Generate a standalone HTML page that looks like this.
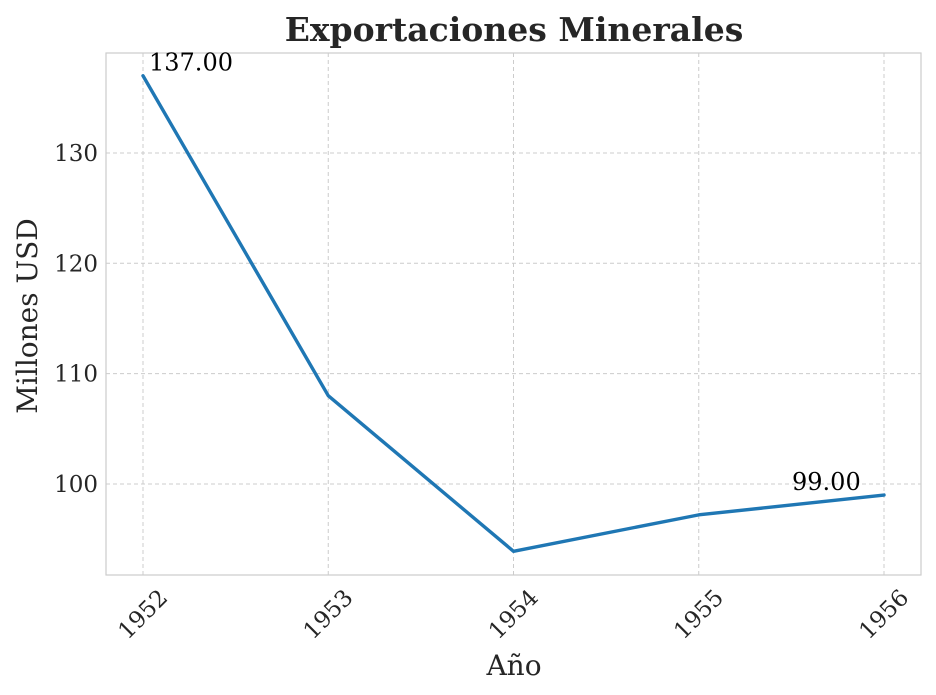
<!DOCTYPE html>
<html><head><meta charset="utf-8">
<style>
html,body{margin:0;padding:0;background:#fff;}
svg{display:block;font-family:"DejaVu Serif","Liberation Serif",serif;}
</style></head>
<body>
<svg id="chart" width="936" height="695" viewBox="0 0 936 695">
<text x="514" y="41" text-anchor="middle" font-size="33" font-weight="bold" fill="#262626">Exportaciones Minerales</text>
<g id="grid"></g>
<rect x="106" y="53" width="815" height="522" fill="none" stroke="#cccccc" stroke-width="1.2"/>
<g id="axes"></g>
<g id="series"></g>
<text x="514" y="675" text-anchor="middle" font-size="28" fill="#262626">Año</text>
<text transform="translate(37,316) rotate(-90)" text-anchor="middle" font-size="28" fill="#262626">Millones USD</text>
</svg>
<script>
const years = ["1952","1953","1954","1955","1956"];
const values = [137, 108, 93.9, 97.2, 99];
const yTicks = [100, 110, 120, 130];
const annotations = ["137.00", "99.00"];

const L=106,R=921,T=53,B=575;
const ymin=91.75,ymax=139.06;
const x0=143,x1=884;
function xs(i){return x0+(x1-x0)*i/(years.length-1);}
function ys(v){return B-(v-ymin)/(ymax-ymin)*(B-T);}
const NS="http://www.w3.org/2000/svg";
function mk(tag,attrs,parent){const e=document.createElementNS(NS,tag);for(const k in attrs)e.setAttribute(k,attrs[k]);parent.appendChild(e);return e;}
const grid=document.getElementById('grid'),axes=document.getElementById('axes'),series=document.getElementById('series');
years.forEach((yr,i)=>{
  const x=xs(i);
  const g=mk('line',{x1:x,x2:x,y1:T,y2:B,stroke:'#cccccc','stroke-dasharray':'4,3','stroke-width':1},grid);
  
  
  const t=mk('text',{x:0,y:0,'text-anchor':'end','font-size':23,fill:'#262626',transform:`translate(${x+26},${B+24}) rotate(-45)`},axes);
  t.textContent=yr;
  
  
});
yTicks.forEach(v=>{
  const y=ys(v);
  const g=mk('line',{x1:L,x2:R,y1:y,y2:y,stroke:'#cccccc','stroke-dasharray':'4,3','stroke-width':1},grid);
  
  
  const t=mk('text',{x:L-8,y:y+8,'text-anchor':'end','font-size':23,fill:'#262626'},axes);
  t.textContent=v;
  
  
});
const pts=values.map((v,i)=>xs(i)+','+ys(v)).join(' ');
const pl=mk('polyline',{points:pts,fill:'none',stroke:'#1f77b4','stroke-width':3.4,'stroke-linejoin':'round','stroke-linecap':'round'},series);


const a1=mk('text',{x:xs(0)+6,y:ys(values[0])-5,'font-size':24,fill:'#000'},series);
a1.textContent=annotations[0];


const n=values.length-1;
const a2=mk('text',{x:xs(n)-92,y:ys(values[n])-5,'font-size':24,fill:'#000'},series);
a2.textContent=annotations[1];


</script>
</body></html>
